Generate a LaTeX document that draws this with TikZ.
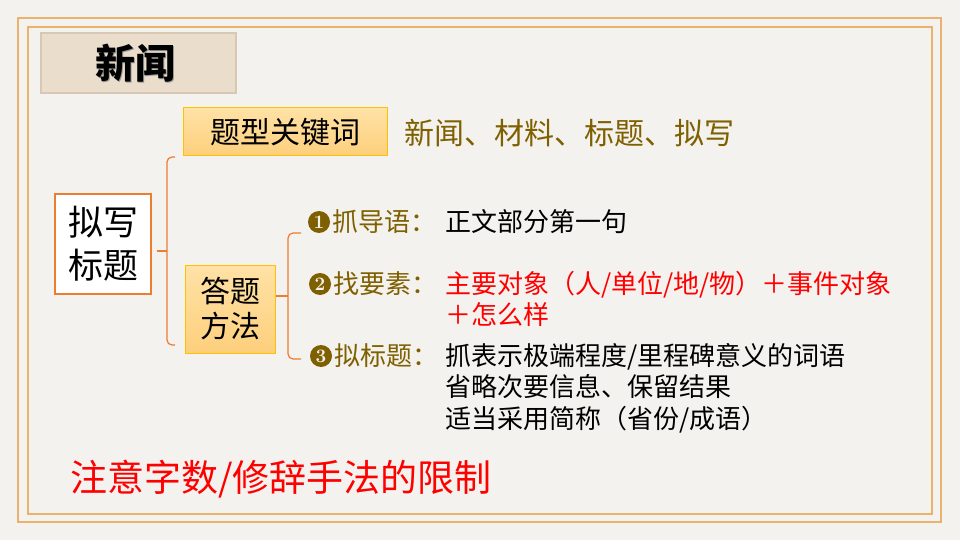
\documentclass[tikz,border=0pt]{standalone}
\usepackage{fontspec}
\newfontfamily\cjk{Noto Sans CJK SC}
\usetikzlibrary{calc}
\definecolor{bgpaper}{HTML}{F4F2EE}
\definecolor{framec}{HTML}{EBB26E}
\definecolor{titlefill}{HTML}{EBDDCB}
\definecolor{titledraw}{HTML}{D8C7B2}
\definecolor{kwtop}{HTML}{FFE2A6}
\definecolor{kwbot}{HTML}{FDCF7C}
\definecolor{kwdraw}{HTML}{FFC000}
\definecolor{bracec}{HTML}{ED7D31}
\definecolor{olive}{HTML}{7F6000}
\definecolor{redtxt}{HTML}{FF0000}
\tikzset{
  framebox/.style={draw=framec, line width=2pt},
  kwbox/.style={draw=kwdraw, line width=1pt, top color=kwtop, bottom color=kwbot, inner sep=0pt},
  bracket/.style={draw=bracec, line width=1.2pt, rounded corners=5pt},
  numcirc/.style={circle, fill=olive, text=bgpaper, minimum size=22pt, inner sep=0pt, font=\bfseries\fontsize{19}{19}\selectfont},
  itemlabel/.style={anchor=base west, inner sep=0pt, text=olive, font=\cjk\fontsize{26}{31}\selectfont},
  itemtext/.style={anchor=base west, inner sep=0pt, font=\cjk\fontsize{26}{31}\selectfont},
}
\begin{document}
\begin{tikzpicture}[x=1pt,y=-1pt]
\useasboundingbox (0,0) rectangle (960,540);
\fill[bgpaper] (0,0) rectangle (960,540);
% frames
\draw[framebox] (18,18) rectangle (941,522);
\draw[framebox] (28,27) rectangle (932,514);
% title
\node[draw=titledraw, fill=titlefill, line width=1.5pt, minimum width=195pt, minimum height=60pt, inner sep=0pt] (title) at (138.5,63) {};
\node[text=gray!80, font=\cjk\bfseries\fontsize{40}{40}\selectfont] (titleshadow) at (136.5,64.5) {新闻};
\node[font=\cjk\bfseries\fontsize{40}{40}\selectfont] (titletxt) at (135,63) {新闻};
% keyword box
\node[kwbox, minimum width=204pt, minimum height=48pt, font=\cjk\fontsize{30}{30}\selectfont] (kw) at (285,132) {题型关键词};
\node[anchor=west, inner sep=0pt, text=olive, font=\cjk\fontsize{30}{30}\selectfont] (kwtext) at (404,133) {新闻、材料、标题、拟写};
% main box
\node[draw=bracec, fill=white, line width=1.2pt, minimum width=96pt, minimum height=100pt, inner sep=0pt, align=center, font=\cjk\fontsize{35}{43}\selectfont] (main) at (103,244) {拟写\\标题};
% method box
\node[kwbox, minimum width=90pt, minimum height=88pt, align=center, font=\cjk\fontsize{30}{35}\selectfont] (method) at (230,309) {答题\\方法};
% brace 1
\coordinate (b1top) at (175,157);
\coordinate (b1bot) at (175,345);
\coordinate (b1mid) at (167,251);
\draw[bracket] (b1top) -- (167,157) -- (167,345) -- (b1bot);
\draw[draw=bracec, line width=1.2pt] ($(main.east)+(5,7)$) -- (b1mid);
% brace 2
\coordinate (b2top) at (301,233);
\coordinate (b2bot) at (301,359);
\coordinate (b2mid) at (288,296);
\draw[bracket] (b2top) -- (288,233) -- (288,359) -- (b2bot);
\draw[draw=bracec, line width=1.2pt] (method.east |- b2mid) -- (b2mid);
% items
\node[numcirc] (c1) at (319,222) {1};
\node[itemlabel] (l1) at (332,231.5) {抓导语：};
\node[itemtext] (t1) at (445,231.5) {正文部分第一句};
\node[numcirc] (c2) at (320,284) {2};
\node[itemlabel] (l2) at (333,293.5) {找要素：};
\node[itemtext, text=redtxt] (t2) at (445,293.5) {\begin{tabular}[t]{@{}l@{}}主要对象（人/单位/地/物）＋事件对象\\＋怎么样\end{tabular}};
\node[numcirc] (c3) at (321,356) {3};
\node[itemlabel] (l3) at (334,365.5) {拟标题：};
\node[itemtext] (t3) at (445,365.5) {\begin{tabular}[t]{@{}l@{}}抓表示极端程度/里程碑意义的词语\\省略次要信息、保留结果\\适当采用简称（省份/成语）\end{tabular}};
% bottom note
\node[anchor=west, inner sep=0pt, text=redtxt, font=\cjk\fontsize{37}{37}\selectfont] (note) at (70,479) {注意字数/修辞手法的限制};
\end{tikzpicture}
\end{document}
